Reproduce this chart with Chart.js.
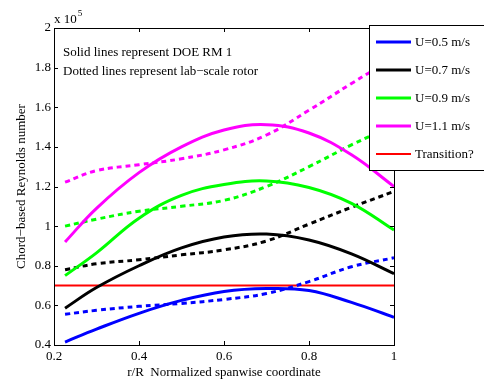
<!DOCTYPE html>
<html>
<head>
<meta charset="utf-8">
<script src="https://cdn.jsdelivr.net/npm/chart.js@4.4.1/dist/chart.umd.min.js"></script>
<style>
  html, body { margin: 0; padding: 0; background: #fff; }
</style>
</head>
<body>
<canvas id="myChart" width="484" height="379"></canvas>
<script>
// r/R sample positions
const radius = [0.226, 0.3, 0.4, 0.5, 0.6, 0.7, 0.8, 0.9, 1.0];

// Reynolds number (x 10^5), solid = DOE RM 1, dotted = lab-scale rotor
const rm1_05 = [0.415, 0.48, 0.56, 0.625, 0.67, 0.685, 0.675, 0.615, 0.54];
const lab_05 = [0.555, 0.575, 0.595, 0.61, 0.63, 0.66, 0.72, 0.795, 0.84];
const rm1_07 = [0.586, 0.69, 0.80, 0.89, 0.945, 0.96, 0.93, 0.86, 0.76];
const lab_07 = [0.78, 0.81, 0.83, 0.855, 0.88, 0.925, 1.01, 1.095, 1.175];
const rm1_09 = [0.75, 0.865, 1.04, 1.155, 1.21, 1.228, 1.195, 1.115, 0.98];
const lab_09 = [1.0, 1.035, 1.075, 1.10, 1.13, 1.2, 1.30, 1.41, 1.51];
const rm1_11 = [0.92, 1.09, 1.27, 1.40, 1.485, 1.512, 1.47, 1.36, 1.2];
const lab_11 = [1.222, 1.28, 1.31, 1.34, 1.385, 1.46, 1.585, 1.72, 1.85];
const transition = 0.7;

const speedLabels = ['U=0.5 m/s', 'U=0.7 m/s', 'U=0.9 m/s', 'U=1.1 m/s'];
const speedColors = ['#0000ff', '#000000', '#00ff00', '#ff00ff'];

const FONT = 'Liberation Serif, Times New Roman, serif';

function pts(vals) {
  return radius.map((r, i) => ({ x: r, y: vals[i] }));
}

const solid = [rm1_05, rm1_07, rm1_09, rm1_11];
const dotted = [lab_05, lab_07, lab_09, lab_11];

const datasets = [];
solid.forEach((vals, i) => {
  datasets.push({
    label: speedLabels[i],
    data: pts(vals),
    borderColor: speedColors[i],
    borderWidth: 3,
    pointRadius: 0,
    tension: 0.4
  });
});
dotted.forEach((vals, i) => {
  datasets.push({
    label: speedLabels[i] + ' lab',
    data: pts(vals),
    borderColor: speedColors[i],
    borderWidth: 3,
    borderDash: [5, 4],
    pointRadius: 0,
    tension: 0.4
  });
});
datasets.push({
  label: 'Transition?',
  data: [{ x: 0.2, y: transition }, { x: 1.0, y: transition }],
  borderColor: '#ff0000',
  borderWidth: 2,
  pointRadius: 0
});

// legend entries: the four solid lines plus the transition line
const legendItems = [0, 1, 2, 3, 8];

// box, inward ticks, notes and legend
const decorations = {
  id: 'decorations',
  afterDraw(chart) {
    const c = chart.ctx;
    const a = chart.chartArea;
    const xs = chart.scales.x, ys = chart.scales.y;
    c.save();
    c.strokeStyle = '#000';
    c.lineWidth = 1;
    c.strokeRect(Math.round(a.left) + 0.5, Math.round(a.top) + 0.5,
      Math.round(a.right - a.left), Math.round(a.bottom - a.top));
    c.beginPath();
    xs.ticks.forEach(t => {
      const px = Math.round(xs.getPixelForValue(t.value)) + 0.5;
      c.moveTo(px, a.bottom); c.lineTo(px, a.bottom - 4);
      c.moveTo(px, a.top); c.lineTo(px, a.top + 4);
    });
    ys.ticks.forEach(t => {
      const py = Math.round(ys.getPixelForValue(t.value)) + 0.5;
      c.moveTo(a.left, py); c.lineTo(a.left + 4, py);
      c.moveTo(a.right, py); c.lineTo(a.right - 4, py);
    });
    c.stroke();

    // exponent label
    c.fillStyle = '#000';
    c.textBaseline = 'alphabetic';
    c.textAlign = 'left';
    c.font = '13px ' + FONT;
    c.fillText('x 10', a.left, 23);
    const w = c.measureText('x 10').width;
    c.font = '9px ' + FONT;
    c.fillText('5', a.left + w + 1, 16);

    // note text
    c.font = '13px ' + FONT;
    c.fillText('Solid lines represent DOE RM 1', 63, 56);
    c.fillText('Dotted lines represent lab\u2212scale rotor', 63, 75);

    // legend box
    const lx = 369, ly = 25, lw = 120, lh = 145;
    c.fillStyle = '#fff';
    c.fillRect(lx, ly, lw, lh);
    c.strokeRect(lx + 0.5, ly + 0.5, lw, lh);
    legendItems.forEach((di, k) => {
      const ds = chart.data.datasets[di];
      const y = 42 + k * 28;
      c.strokeStyle = ds.borderColor;
      c.lineWidth = ds.borderWidth === 2 ? 2 : 3;
      c.beginPath();
      c.moveTo(376, y); c.lineTo(411, y);
      c.stroke();
      c.fillStyle = '#000';
      c.textBaseline = 'middle';
      c.fillText(ds.label, 415, y + 1);
    });
    c.restore();
  }
};

const canvas = document.getElementById('myChart');
const ctx = canvas.getContext('2d');

new Chart(ctx, {
  type: 'line',
  data: { datasets: datasets },
  options: {
    responsive: false,
    animation: false,
    devicePixelRatio: 1,
    layout: { padding: { left: 0, right: 90, top: 28, bottom: 0 } },
    plugins: { legend: { display: false }, tooltip: { enabled: false } },
    scales: {
      x: {
        type: 'linear',
        min: 0.2,
        max: 1.0,
        grid: { display: false, drawTicks: false, tickLength: 0 },
        border: { display: false },
        ticks: {
          stepSize: 0.2,
          color: '#000',
          padding: 4,
          font: { family: FONT, size: 13 },
          callback: v => String(Math.round(v * 10) / 10)
        },
        title: {
          display: true,
          text: 'r/R  Normalized spanwise coordinate',
          color: '#000',
          font: { family: FONT, size: 13 },
          padding: { top: 0, bottom: -1 }
        },
        afterFit: s => { s.height = 34; }
      },
      y: {
        min: 0.4,
        max: 2.0,
        grid: { display: false, drawTicks: false, tickLength: 0 },
        border: { display: false },
        ticks: {
          stepSize: 0.2,
          color: '#000',
          padding: 3,
          font: { family: FONT, size: 13 },
          callback: v => String(Math.round(v * 10) / 10)
        },
        title: {
          display: true,
          text: 'Chord\u2212based Reynolds number',
          color: '#000',
          font: { family: FONT, size: 13 },
          padding: { top: 14, bottom: 0 }
        },
        afterFit: s => { s.width = 54; }
      }
    }
  },
  plugins: [decorations]
});
</script>
</body>
</html>
